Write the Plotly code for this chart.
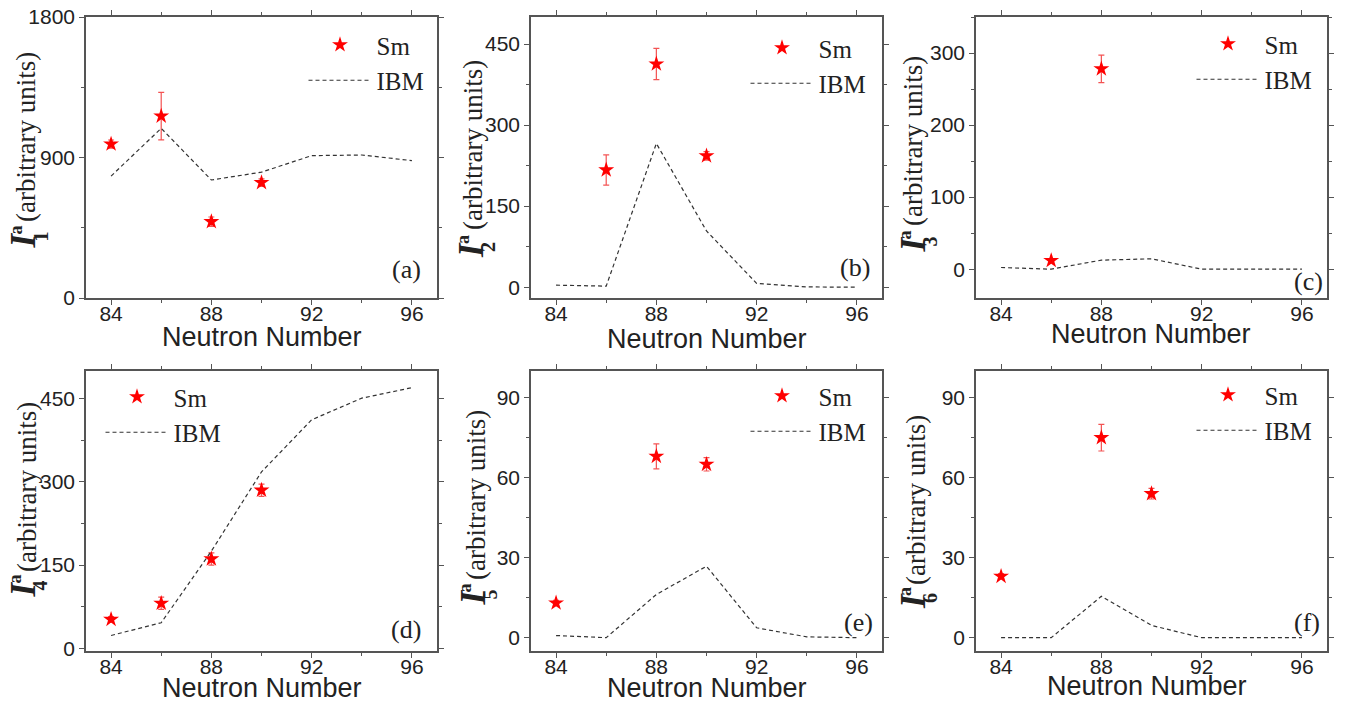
import plotly.graph_objects as go

W, H = 1345, 704

# Neutron numbers of the IBM calculation
n_ibm = [84, 86, 88, 90, 92, 94, 96]

# IBM values, one list per intensity I_1 ... I_6
ibm_1 = [781, 1087, 756, 806, 912, 916, 880]
ibm_2 = [3.7, 2, 266, 104, 7, 0.5, 0]
ibm_3 = [2.3, 0, 12.5, 14.4, 0, 0, 0]
ibm_4 = [23, 46, 175, 318, 412, 451, 470]
ibm_5 = [0.8, 0, 16.2, 26.8, 3.7, 0.3, 0]
ibm_6 = [0, 0, 15.5, 4.6, 0, 0, 0]

# Sm data: neutron number, value, error
n_sm_1 = [84, 86, 88, 90]
sm_1 = [986, 1165, 489, 739]
err_1 = [26, 152, 30, 24]

n_sm_2 = [86, 88, 90]
sm_2 = [217, 413, 243]
err_2 = [28, 29, 8]

n_sm_3 = [86, 88]
sm_3 = [12, 278]
err_3 = [2, 19]

n_sm_4 = [84, 86, 88, 90]
sm_4 = [52, 81, 161, 285]
err_4 = [5, 11, 11, 11]

n_sm_5 = [84, 88, 90]
sm_5 = [13, 68, 65]
err_5 = [1, 4.7, 2.5]

n_sm_6 = [84, 88, 90]
sm_6 = [23, 75, 54]
err_6 = [1, 5, 2]

panel_tags = ["(a)", "(b)", "(c)", "(d)", "(e)", "(f)"]
sub_digits = ["1", "2", "3", "4", "5", "6"]
y_ranges = [[0, 1800], [-20, 500], [-40, 350], [-5, 500], [-5, 100], [-5, 100]]
y_dticks = [900, 150, 100, 150, 30, 30]
x_range = [83, 97]

ibm_sets = [ibm_1, ibm_2, ibm_3, ibm_4, ibm_5, ibm_6]
sm_sets = [(n_sm_1, sm_1, err_1), (n_sm_2, sm_2, err_2), (n_sm_3, sm_3, err_3),
           (n_sm_4, sm_4, err_4), (n_sm_5, sm_5, err_5), (n_sm_6, sm_6, err_6)]

# ---- layout geometry (pixels) ----
frames = [(86, 437, 17, 298), (531, 882, 17, 298), (976, 1327, 17, 298),
          (86, 437, 371, 651), (531, 882, 371, 651), (976, 1327, 371, 651)]
legend_star = [(340, 44), (782, 47), (1228, 43), (137, 396), (782, 395), (1228, 394)]
glyph_centers = [(23.5, 240), (471, 250), (912.5, 245), (22.5, 589), (472.5, 598), (913, 601)]
ytext_centers = [(25.5, 137.5), (473, 145), (913, 141), (27, 487), (476, 495), (916, 500)]
tag_pos = [(423, 269), (872, 267), (1325, 281), (423, 629), (875, 622), (1322, 622)]
xtitle_pos = [(262, 337), (707, 339), (1151, 334), (262, 688), (707, 688), (1147, 686)]

SERIF = "Liberation Serif"
SANS = "Liberation Sans"
FRAME = "#555555"
TEXT = "#222222"


def px(x):
    return x / W


def py(y):
    return 1 - y / H


fig = go.Figure()
annotations = []
layout = dict(width=W, height=H,
              margin=dict(l=0, r=0, t=0, b=0, autoexpand=False),
              paper_bgcolor="white", plot_bgcolor="white", showlegend=True)

for i in range(6):
    k = "" if i == 0 else str(i + 1)
    xa, ya = "x" + k, "y" + k
    leg = "legend" + k
    x0, x1, y0, y1 = frames[i]

    n_s, v_s, e_s = sm_sets[i]
    fig.add_trace(go.Scatter(
        x=n_s, y=v_s, mode="markers", name="Sm", xaxis=xa, yaxis=ya, legend=leg,
        marker=dict(symbol="star", size=12, color="#ff0000", line=dict(width=0)),
        error_y=dict(type="data", array=e_s, visible=True, color="rgba(240,40,40,0.8)",
                     thickness=1.2, width=3),
    ))
    fig.add_trace(go.Scatter(
        x=n_ibm, y=ibm_sets[i], mode="lines", name="IBM", xaxis=xa, yaxis=ya, legend=leg,
        line=dict(color="#333333", width=1.2, dash="4px,3px"),
    ))

    axis_common = dict(showline=True, linecolor=FRAME, linewidth=1.5, mirror="ticks",
                       ticks="outside", ticklen=5, tickwidth=1.2, tickcolor=FRAME,
                       showgrid=False, zeroline=False,
                       tickfont=dict(family=SANS, size=21, color=TEXT))
    layout["xaxis" + k] = dict(
        axis_common, domain=[px(x0), px(x1)], range=x_range, tick0=84, dtick=4,
        anchor=ya, ticklabelstandoff=-9,
        minor=dict(ticks="outside", ticklen=3, dtick=2, tick0=84,
                   tickcolor=FRAME, showgrid=False))
    layout["yaxis" + k] = dict(
        axis_common, domain=[py(y1), py(y0)], range=y_ranges[i], tick0=0,
        dtick=y_dticks[i], anchor=xa,
        minor=dict(ticks="outside", ticklen=3, dtick=y_dticks[i] / 2, tick0=0,
                   tickcolor=FRAME, showgrid=False))

    sx, sy = legend_star[i]
    layout[leg] = dict(x=px(sx - 36.5), y=py(sy - 22), xanchor="left", yanchor="top",
                       bgcolor="rgba(0,0,0,0)", borderwidth=0, itemwidth=63,
                       font=dict(family=SERIF, size=25, color=TEXT), tracegroupgap=0)

    # y-axis title: bold italic I with stacked sub/superscript
    gx, gy = glyph_centers[i]
    annotations.append(dict(text="<b><i>I</i></b>", x=px(gx), y=py(gy), xref="paper",
                            yref="paper", showarrow=False, textangle=-90,
                            xanchor="center", yanchor="middle",
                            font=dict(family=SERIF, size=35, color=TEXT)))
    annotations.append(dict(text="<b>" + sub_digits[i] + "</b>", x=px(gx + 17),
                            y=py(gy - 3), xref="paper", yref="paper", showarrow=False,
                            textangle=-90, xanchor="center", yanchor="middle",
                            font=dict(family=SERIF, size=20, color=TEXT)))
    annotations.append(dict(text="<b>a</b>", x=px(gx - 8), y=py(gy - 10), xref="paper",
                            yref="paper", showarrow=False, textangle=-90,
                            xanchor="center", yanchor="middle",
                            font=dict(family=SERIF, size=18, color=TEXT)))
    tx, ty = ytext_centers[i]
    annotations.append(dict(text="(arbitrary units)", x=px(tx), y=py(ty), xref="paper",
                            yref="paper", showarrow=False, textangle=-90,
                            xanchor="center", yanchor="middle",
                            font=dict(family=SERIF, size=27, color=TEXT)))

    # panel tag
    ax_, ay_ = tag_pos[i]
    annotations.append(dict(text=panel_tags[i], x=px(ax_), y=py(ay_), xref="paper",
                            yref="paper", showarrow=False, xanchor="right",
                            yanchor="middle", font=dict(family=SERIF, size=26, color=TEXT)))

    # x-axis title
    bx, by = xtitle_pos[i]
    annotations.append(dict(text="Neutron Number", x=px(bx), y=py(by), xref="paper",
                            yref="paper", showarrow=False, xanchor="center",
                            yanchor="middle", font=dict(family=SANS, size=27, color=TEXT)))

layout["annotations"] = annotations
fig.update_layout(**layout)
fig.write_html("out.html")
